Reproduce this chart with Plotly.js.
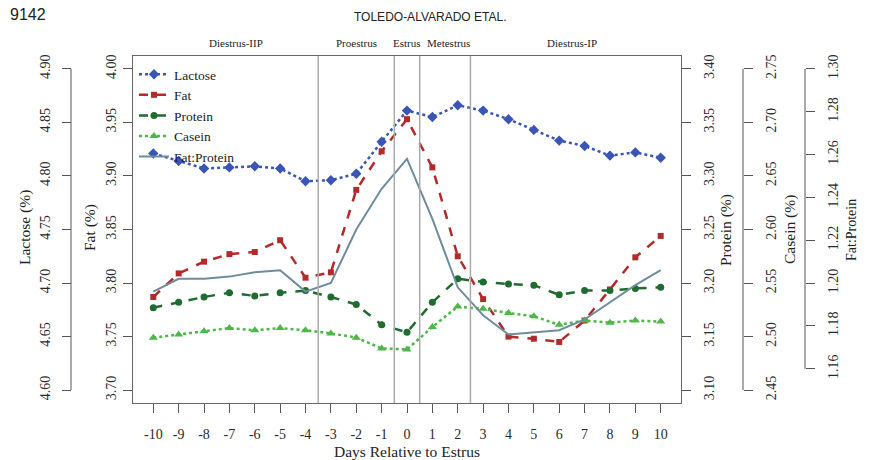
<!DOCTYPE html>
<html><head><meta charset="utf-8">
<script src="https://cdn.plot.ly/plotly-3.0.1.min.js"></script>
<style>html,body{margin:0;padding:0;background:#fff}#chart{width:870px;height:460px}</style>
</head><body><div id="chart"></div>
<script>
// ---- data ----
const days = [-10,-9,-8,-7,-6,-5,-4,-3,-2,-1,0,1,2,3,4,5,6,7,8,9,10];
const dayLabels = days.map(d => String(d));
const lactose = [4.821,4.814,4.807,4.808,4.809,4.807,4.795,4.796,4.802,4.832,4.861,4.855,4.866,4.861,4.853,4.843,4.833,4.828,4.819,4.822,4.817];
const fat     = [3.787,3.809,3.820,3.827,3.829,3.840,3.805,3.810,3.887,3.923,3.953,3.908,3.825,3.785,3.750,3.748,3.745,3.765,3.794,3.824,3.844];
const protein = [3.177,3.182,3.187,3.191,3.188,3.191,3.193,3.187,3.180,3.161,3.154,3.182,3.204,3.201,3.199,3.198,3.189,3.193,3.193,3.195,3.196];
const casein  = [2.499,2.502,2.505,2.508,2.506,2.508,2.506,2.503,2.499,2.489,2.488,2.509,2.528,2.526,2.522,2.519,2.511,2.515,2.513,2.515,2.514];
const fatProtein = [1.196,1.202,1.202,1.203,1.205,1.206,1.196,1.200,1.225,1.244,1.258,1.230,1.198,1.185,1.176,1.177,1.178,1.183,1.191,1.199,1.206];
const lactoseTicks = [4.60,4.65,4.70,4.75,4.80,4.85,4.90];
const fatTicks     = [3.70,3.75,3.80,3.85,3.90,3.95,4.00];
const proteinTicks = [3.10,3.15,3.20,3.25,3.30,3.35,3.40];
const caseinTicks  = [2.45,2.50,2.55,2.60,2.65,2.70,2.75];
const fpTicks      = [1.16,1.18,1.20,1.22,1.24,1.26,1.28,1.30];
const phaseBounds = [-3.5,-0.5,0.5,2.5];
const phaseNames = ['Diestrus-IIP','Proestrus','Estrus','Metestrus','Diestrus-IP'];
const phaseCenters = [-6.75,-2,0,1.65,6.5];

// ---- geometry helpers ----
const W = 870, TOP = 56, BOT = 403;
const pxX = v => v / W;
const pxY = v => (BOT - v) / (BOT - TOP);
const serif = 'Liberation Serif, Times New Roman, serif';
const tickFont = {family: serif, size: 14, color: '#2a2a2a'};
const axCol = '#555';

function yAxis(extra, ticks) {
  return Object.assign({
    tickvals: ticks, ticktext: ticks.map(t => t.toFixed(2)),
    tickangle: -90, ticks: 'outside', ticklen: 9, tickcolor: axCol, tickwidth: 1,
    tickfont: tickFont, showgrid: false, zeroline: false, showline: false,
    fixedrange: true
  }, extra);
}

const traces = [
  {x: days, y: lactose, name: 'Lactose', yaxis: 'y2', mode: 'lines+markers',
   line: {color: '#3A55B4', dash: 'dot', width: 2.5}, marker: {symbol: 'diamond', size: 8, color: '#3A55B4'}},
  {x: days, y: fat, name: 'Fat', yaxis: 'y', mode: 'lines+markers',
   line: {color: '#B22A2A', dash: 'dash', width: 2.5}, marker: {symbol: 'square', size: 6, color: '#B22A2A'}},
  {x: days, y: protein, name: 'Protein', yaxis: 'y3', mode: 'lines+markers',
   line: {color: '#1F6B30', dash: 'dash', width: 2.5}, marker: {symbol: 'circle', size: 7, color: '#1F6B30'}},
  {x: days, y: casein, name: 'Casein', yaxis: 'y4', mode: 'lines+markers',
   line: {color: '#4DB848', dash: 'dot', width: 2.5}, marker: {symbol: 'triangle-up', size: 8, color: '#4DB848'}},
  {x: days, y: fatProtein, name: 'Fat:Protein', yaxis: 'y5', mode: 'lines',
   line: {color: '#6F8C9C', width: 2}}
];

const shapes = phaseBounds.map(b => ({type: 'line', xref: 'x', yref: 'paper', x0: b, x1: b, y0: 0, y1: 1,
  line: {color: '#AAAAAA', width: 1.5}}));
shapes.push({type: 'line', xref: 'paper', yref: 'y2', x0: pxX(71), x1: pxX(71), y0: 4.60, y1: 4.90, line: {color: axCol, width: 1}});
shapes.push({type: 'line', xref: 'paper', yref: 'y4', x0: pxX(743), x1: pxX(743), y0: 2.45, y1: 2.75, line: {color: axCol, width: 1}});
shapes.push({type: 'line', xref: 'paper', yref: 'y5', x0: pxX(805), x1: pxX(805), y0: 1.16, y1: 1.30, line: {color: axCol, width: 1}});

function ann(text, x, y, opts) {
  return Object.assign({text: text, xref: 'paper', yref: 'paper', x: pxX(x), y: pxY(y),
    showarrow: false, xanchor: 'center', yanchor: 'middle', font: {family: serif, size: 15.5, color: '#222'}}, opts || {});
}
const annotations = [
  ann('9142', 8, 14, {xanchor: 'left', font: {family: 'Liberation Sans, Arial, sans-serif', size: 16, color: '#222'}}),
  ann('TOLEDO-ALVARADO ETAL.', 430, 17, {font: {family: 'Liberation Sans Narrow, Liberation Sans, Arial, sans-serif', size: 12, color: '#222'}}),
  ann('Lactose (%)', 25, 228, {textangle: -90}),
  ann('Fat (%)', 90, 228, {textangle: -90}),
  ann('Protein (%)', 726, 230, {textangle: -90}),
  ann('Casein (%)', 790, 230, {textangle: -90}),
  ann('Fat:Protein', 851, 230, {textangle: -90, font: {family: serif, size: 14, color: '#222'}}),
  ann('Days Relative to Estrus', 407, 451)
];
phaseNames.forEach((n, i) => annotations.push({text: n, xref: 'x', yref: 'paper', x: phaseCenters[i], y: pxY(43),
  showarrow: false, xanchor: 'center', yanchor: 'middle', font: {family: serif, size: 11, color: '#222'}}));

const layout = {
  width: 870, height: 460,
  margin: {l: 0, r: 0, t: TOP, b: 460 - BOT},
  paper_bgcolor: '#fff', plot_bgcolor: '#fff',
  showlegend: true,
  legend: {x: pxX(134), y: pxY(59), xanchor: 'left', yanchor: 'top', bgcolor: 'rgba(0,0,0,0)',
    font: {family: serif, size: 13.5, color: '#222'}, tracegroupgap: 0},
  xaxis: {domain: [pxX(133), pxX(681)], range: [-10.8, 10.8], tickvals: days, ticktext: dayLabels,
    ticks: 'outside', ticklen: 9, tickcolor: axCol, tickfont: tickFont, ticklabelstandoff: 9,
    showline: true, mirror: true, linecolor: '#666', linewidth: 1, showgrid: false, zeroline: false, fixedrange: true},
  yaxis: yAxis({range: [3.688, 4.012], anchor: 'x', side: 'left', showline: true, mirror: true, linecolor: '#666', linewidth: 1, ticklabelstandoff: 1}, fatTicks),
  yaxis2: yAxis({range: [4.588, 4.912], overlaying: 'y', anchor: 'free', position: pxX(71), side: 'left', ticklabelstandoff: 6}, lactoseTicks),
  yaxis3: yAxis({range: [3.088, 3.412], overlaying: 'y', anchor: 'x', side: 'right', ticklabelstandoff: 6}, proteinTicks),
  yaxis4: yAxis({range: [2.438, 2.762], overlaying: 'y', anchor: 'free', position: pxX(743), side: 'right', ticklabelstandoff: 6}, caseinTicks),
  yaxis5: yAxis({range: [1.144, 1.306], overlaying: 'y', anchor: 'free', position: pxX(805), side: 'right', ticklabelstandoff: 6}, fpTicks),
  shapes: shapes,
  annotations: annotations
};

Plotly.newPlot('chart', traces, layout, {staticPlot: true, displayModeBar: false});
</script>
</body></html>
